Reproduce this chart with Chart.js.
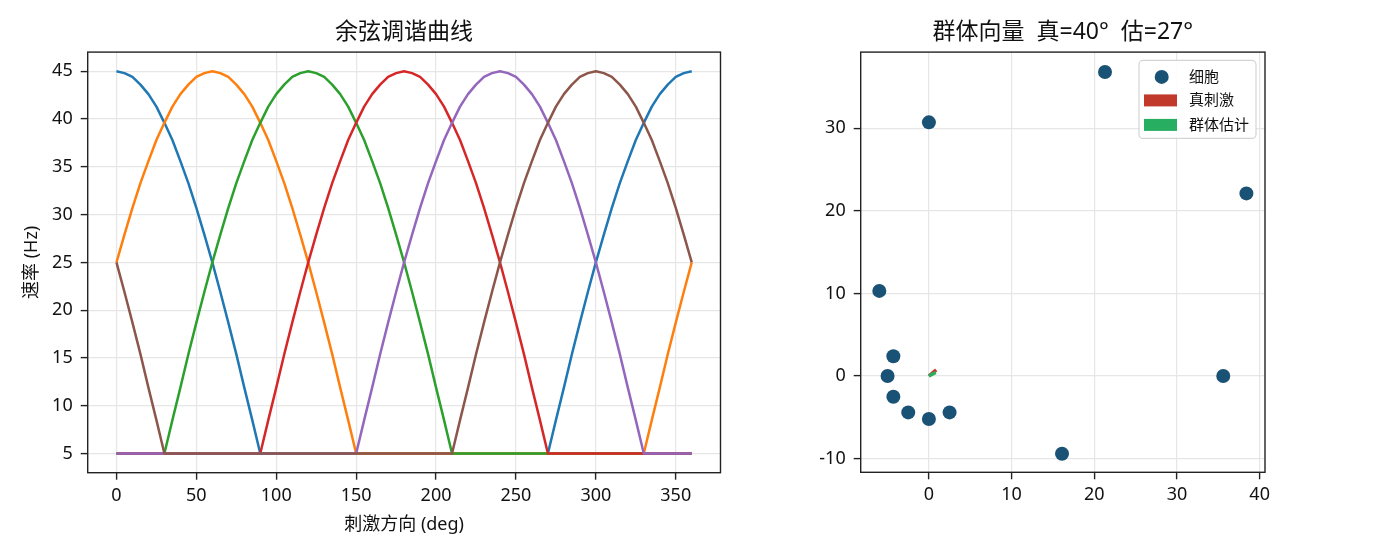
<!DOCTYPE html>
<html>
<head>
<meta charset="utf-8">
<script src="https://cdn.jsdelivr.net/npm/chart.js@4.4.1/dist/chart.umd.min.js"></script>
<style>
  html, body { margin: 0; padding: 0; background: #fff; }
  #wrap { position: relative; width: 1400px; height: 560px; }
  #tuning { position: absolute; left: 0; top: 0; }
  #popvec { position: absolute; left: 760px; top: 0; }
</style>
</head>
<body>
<div id="wrap">
  <canvas id="tuning" width="760" height="560"></canvas>
  <canvas id="popvec" width="640" height="560"></canvas>
</div>
<script>
// ---- data: tuning curves (stimulus direction in deg, rate in Hz) ----
const angles = [0,5,10,15,20,25,30,35,40,45,50,55,60,65,70,75,80,85,90,95,100,105,110,115,120,125,130,135,140,145,150,155,160,165,170,175,180,185,190,195,200,205,210,215,220,225,230,235,240,245,250,255,260,265,270,275,280,285,290,295,300,305,310,315,320,325,330,335,340,345,350,355,360];

const rate0 = [45,44.8,44.4,43.6,42.6,41.3,39.6,37.8,35.6,33.3,30.7,27.9,25,21.9,18.7,15.4,11.9,8.5,5,
  5,5,5,5,5,5,5,5,5,5,
  5,5,5,5,5,5,5,5,5,5,
  5,5,5,5,5,5,5,5,5,5,
  5,5,5,5,5,
  5,8.5,11.9,15.4,18.7,21.9,25,27.9,30.7,33.3,35.6,37.8,39.6,41.3,42.6,43.6,44.4,44.8,45];

const rate60 = [25,27.9,30.7,33.3,35.6,37.8,39.6,41.3,42.6,43.6,44.4,44.8,45,44.8,44.4,43.6,42.6,41.3,39.6,37.8,35.6,33.3,30.7,27.9,25,21.9,18.7,15.4,11.9,8.5,5,
  5,5,5,5,5,5,5,5,5,5,
  5,5,5,5,5,5,5,5,5,5,
  5,5,5,5,5,5,5,5,5,5,
  5,5,5,5,5,5,
  8.5,11.9,15.4,18.7,21.9,25];

const rate120 = [5,5,5,5,5,5,
  5,8.5,11.9,15.4,18.7,21.9,25,27.9,30.7,33.3,35.6,37.8,39.6,41.3,42.6,43.6,44.4,44.8,45,
  44.8,44.4,43.6,42.6,41.3,39.6,37.8,35.6,33.3,30.7,27.9,25,21.9,18.7,15.4,11.9,8.5,5,
  5,5,5,5,5,5,5,5,5,5,
  5,5,5,5,5,5,5,5,5,5,
  5,5,5,5,5,5,5,5,5,5];

const rate180 = [5,5,5,5,5,5,5,5,5,5,5,5,5,5,5,5,5,5,
  5,8.5,11.9,15.4,18.7,21.9,25,27.9,30.7,33.3,35.6,37.8,39.6,41.3,42.6,43.6,44.4,44.8,45,
  44.8,44.4,43.6,42.6,41.3,39.6,37.8,35.6,33.3,30.7,27.9,25,21.9,18.7,15.4,11.9,8.5,5,
  5,5,5,5,5,5,5,5,5,5,5,5,5,5,5,5,5,5];

const rate240 = [5,5,5,5,5,5,5,5,5,5,
  5,5,5,5,5,5,5,5,5,5,
  5,5,5,5,5,5,5,5,5,5,
  5,8.5,11.9,15.4,18.7,21.9,25,27.9,30.7,33.3,35.6,37.8,39.6,41.3,42.6,43.6,44.4,44.8,45,
  44.8,44.4,43.6,42.6,41.3,39.6,37.8,35.6,33.3,30.7,27.9,25,21.9,18.7,15.4,11.9,8.5,5,
  5,5,5,5,5,5];

const rate300 = [25,21.9,18.7,15.4,11.9,8.5,5,
  5,5,5,5,5,5,5,5,5,5,
  5,5,5,5,5,5,5,5,5,5,
  5,5,5,5,5,5,5,5,5,5,
  5,5,5,5,5,
  5,8.5,11.9,15.4,18.7,21.9,25,27.9,30.7,33.3,35.6,37.8,39.6,41.3,42.6,43.6,44.4,44.8,45,
  44.8,44.4,43.6,42.6,41.3,39.6,37.8,35.6,33.3,30.7,27.9,25];

const curveSeries = [rate0, rate60, rate120, rate180, rate240, rate300];
const curveColors = ["#1f77b4", "#ff7f0e", "#2ca02c", "#d62728", "#9467bd", "#8c564b"];
const tuningXTicks = [0, 50, 100, 150, 200, 250, 300, 350];
const tuningYTicks = [5, 10, 15, 20, 25, 30, 35, 40, 45];

// ---- data: population vector plot ----
const cellX = [35.6, 38.4, 21.3, 0, -6.0, -4.3, -5.0, -4.3, -2.5, 0, 2.5, 16.1];
const cellY = [0, 22.1, 36.8, 30.7, 10.3, 2.4, 0, -2.5, -4.4, -5.2, -4.4, -9.4];
const trueVec = [0.88, 0.74];   // 真刺激 40°
const estVec = [0.82, 0.42];    // 群体估计 27°
const popXTicks = [0, 10, 20, 30, 40];
const popYTicks = [-10, 0, 10, 20, 30];

Chart.defaults.font.family = '"Noto Sans", "Noto Sans CJK SC", sans-serif';
Chart.defaults.color = "#111";

// box around the plot like matplotlib spines
const frame = {
  id: "frame",
  afterDraw(chart) {
    const { ctx, chartArea: a } = chart;
    ctx.save();
    ctx.strokeStyle = "#222";
    ctx.lineWidth = 1.4;
    ctx.strokeRect(a.left, a.top, a.right - a.left, a.bottom - a.top);
    ctx.restore();
  },
};

const axis = (ticks, min, max, fit) => ({
  type: "linear",
  min: min,
  max: max,
  afterBuildTicks: (s) => { s.ticks = ticks.map((v) => ({ value: v })); },
  afterFit: fit,
  grid: { color: "#e6e6e6", lineWidth: 1.2, tickLength: 7, tickColor: "#222", tickWidth: 1.4 },
  border: { display: false },
  ticks: { autoSkip: false, maxRotation: 0, padding: 5, font: { size: 18 } },
});

const titleOpts = (text) => ({
  display: true,
  text: text,
  fullSize: false,
  font: { size: 23, weight: "normal" },
  padding: { top: 18.5, bottom: 6 },
});

// left: 余弦调谐曲线
const tuningSets = curveSeries.map((s, k) => ({
  label: "pref " + k,
  data: s.map((v, i) => ({ x: angles[i], y: v })),
  borderColor: curveColors[k],
  borderWidth: 2.5,
  borderJoinStyle: "round",
  pointRadius: 0,
  tension: 0,
  order: curveSeries.length - k,
}));

const xTun = axis(tuningXTicks, -18, 378, (s) => { s.height = 87.3; });
xTun.title = { display: true, text: "刺激方向 (deg)", font: { size: 18 }, padding: { top: 0, bottom: 24 } };
const yTun = axis(tuningYTicks, 3, 47, (s) => { s.width = 87.7; });
yTun.ticks.padding = 8;
yTun.title = { display: true, text: "速率 (Hz)", font: { size: 18 }, padding: { top: 21, bottom: 0 } };

new Chart(document.getElementById("tuning"), {
  type: "line",
  data: { datasets: tuningSets },
  options: {
    responsive: false,
    animation: false,
    layout: { padding: { left: 0, right: 39.5, top: 0, bottom: 0 } },
    scales: { x: xTun, y: yTun },
    plugins: { legend: { display: false }, tooltip: { enabled: false }, title: titleOpts("余弦调谐曲线") },
  },
  plugins: [frame],
});

// right: 群体向量
const legendBox = {
  id: "legendBox",
  afterDraw(chart) {
    const { ctx, chartArea: a } = chart;
    const ds = chart.data.datasets;
    const w = 117, h = 78;
    const left = a.right - 9 - w, top = a.top + 8.3;
    ctx.save();
    ctx.fillStyle = "rgba(255,255,255,0.85)";
    ctx.strokeStyle = "#d4d4d4";
    ctx.lineWidth = 1.2;
    ctx.beginPath();
    ctx.roundRect(left, top, w, h, 4);
    ctx.fill();
    ctx.stroke();
    ctx.font = '15px "Noto Sans", "Noto Sans CJK SC", sans-serif';
    ctx.textBaseline = "middle";
    const rows = [16.5, 40, 64.5];
    ds.forEach((d, i) => {
      const cy = top + rows[i];
      if (i === 0) {
        ctx.fillStyle = d.backgroundColor;
        ctx.beginPath();
        ctx.arc(left + 22.7, cy, 7, 0, Math.PI * 2);
        ctx.fill();
      } else {
        ctx.fillStyle = d.borderColor;
        ctx.fillRect(left + 5, cy - 6, 33, 12);
      }
      ctx.fillStyle = "#111";
      ctx.fillText(d.label, left + 50, cy + 0.5);
    });
    ctx.restore();
  },
};

const xPop = axis(popXTicks, -8.25, 40.65, (s) => { s.height = 87.7; });
const yPop = axis(popYTicks, -11.65, 39.2, (s) => { s.width = 100.7; });
yPop.ticks.padding = 8;

new Chart(document.getElementById("popvec"), {
  type: "scatter",
  data: {
    datasets: [
      {
        label: "细胞",
        data: cellX.map((x, i) => ({ x: x, y: cellY[i] })),
        backgroundColor: "#1a5276",
        borderWidth: 0,
        pointRadius: 7,
        order: 3,
      },
      {
        type: "line",
        label: "真刺激",
        data: [{ x: 0, y: 0 }, { x: trueVec[0], y: trueVec[1] }],
        borderColor: "#c0392b",
        borderWidth: 3.5,
        pointRadius: 0,
        order: 2,
      },
      {
        type: "line",
        label: "群体估计",
        data: [{ x: 0, y: 0 }, { x: estVec[0], y: estVec[1] }],
        borderColor: "#27ae60",
        borderWidth: 3.5,
        pointRadius: 0,
        order: 1,
      },
    ],
  },
  options: {
    responsive: false,
    animation: false,
    layout: { padding: { left: 0, right: 135, top: 0, bottom: 0 } },
    scales: { x: xPop, y: yPop },
    plugins: { legend: { display: false }, tooltip: { enabled: false }, title: titleOpts("群体向量  真=40°  估=27°") },
  },
  plugins: [frame, legendBox],
});
</script>
</body>
</html>
